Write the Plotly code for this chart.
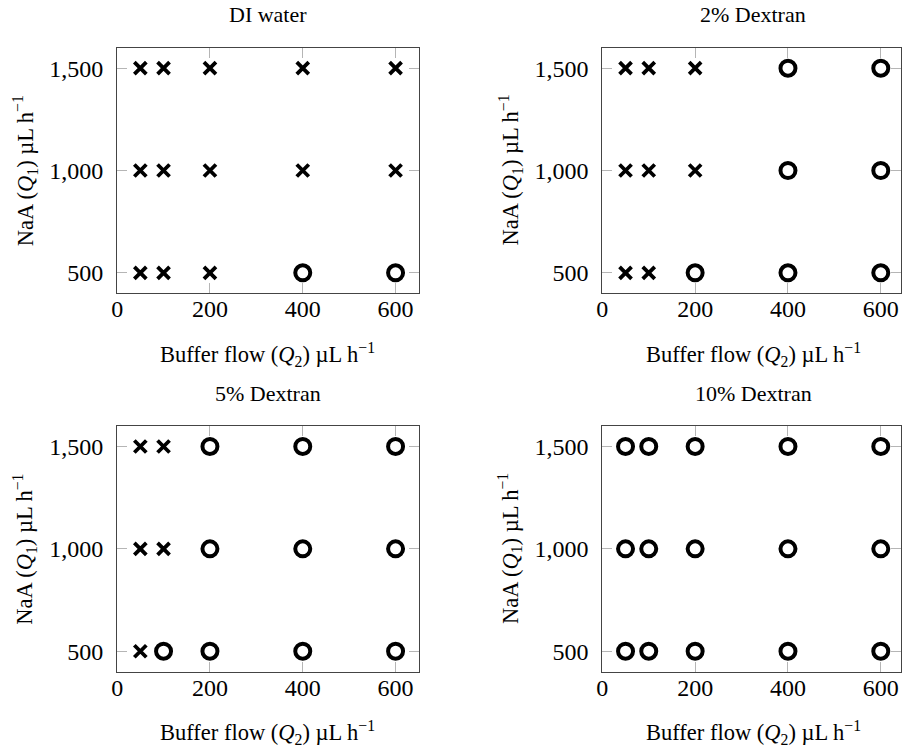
import plotly.graph_objects as go

# ---- data ----
panel_titles = ["DI water", "2% Dextran", "5% Dextran", "10% Dextran"]
buffer_flow = [50, 100, 200, 400, 600]          # Q2, µL/h
naa_flow = [500, 1000, 1500]                    # Q1, µL/h
# outcome per (row = naa_flow, col = buffer_flow): "x" = cross, "o" = circle
outcome_di = [["x", "x", "x", "o", "o"],
              ["x", "x", "x", "x", "x"],
              ["x", "x", "x", "x", "x"]]
outcome_2 = [["x", "x", "o", "o", "o"],
             ["x", "x", "x", "o", "o"],
             ["x", "x", "x", "o", "o"]]
outcome_5 = [["x", "o", "o", "o", "o"],
             ["x", "x", "o", "o", "o"],
             ["x", "x", "o", "o", "o"]]
outcome_10 = [["o", "o", "o", "o", "o"],
              ["o", "o", "o", "o", "o"],
              ["o", "o", "o", "o", "o"]]
outcomes = [outcome_di, outcome_2, outcome_5, outcome_10]
x_ticks = [0, 200, 400, 600]
y_ticks = [500, 1000, 1500]
y_tick_text = ["500", "1,000", "1,500"]

# ---- layout geometry ----
W, H = 902, 747
FONT = "Liberation Serif"
col_px = [(112, 416), (601, 905)]
row_px = [(47.7, 293.3), (426, 671.7)]
XMAX = 650

fig = go.Figure()

for i, (title, grid) in enumerate(zip(panel_titles, outcomes)):
    r, c = divmod(i, 2)
    x0, x1 = col_px[c]
    top, bot = row_px[r]
    x1c = min(x1, W)
    xr = XMAX * (x1c - x0) / (x1 - x0)
    ax = "" if i == 0 else str(i + 1)
    xa, ya = "x" + ax, "y" + ax

    for sym in ["x", "o"]:
        xs, ys = [], []
        for ri, q1 in enumerate(naa_flow):
            for ci, q2 in enumerate(buffer_flow):
                if grid[ri][ci] == sym:
                    xs.append(q2)
                    ys.append(q1)
        if sym == "x":
            marker = dict(symbol="x-thin-open", size=12, color="black",
                          line=dict(color="black", width=3.8))
        else:
            marker = dict(symbol="circle-open", size=15, color="black",
                          line=dict(color="black", width=4))
        fig.add_trace(go.Scatter(x=xs, y=ys, mode="markers", marker=marker,
                                 xaxis=xa, yaxis=ya, showlegend=False,
                                 hoverinfo="skip"))

    axis_common = dict(showgrid=False, zeroline=False, showline=True,
                       linecolor="#444", linewidth=1, mirror="ticks",
                       ticks="inside", ticklen=10, tickwidth=1,
                       tickcolor="#b5b5b5", layer="below traces",
                       tickfont=dict(family=FONT, size=24, color="black"))
    fig.layout["xaxis" + ax] = dict(
        domain=[x0 / W, x1c / W], range=[0, xr], anchor=ya,
        tickvals=x_ticks, ticktext=[str(v) for v in x_ticks],
        ticklabelstandoff=-6, **axis_common)
    fig.layout["yaxis" + ax] = dict(
        domain=[1 - bot / H, 1 - top / H], range=[400, 1600], anchor=xa,
        tickvals=y_ticks, ticktext=y_tick_text, ticklabelstandoff=8,
        **axis_common)

    cx = (x0 + x1) / 2
    # panel title
    fig.add_annotation(text=title, x=cx / W, y=1 - (top - 33) / H,
                       xref="paper", yref="paper", showarrow=False,
                       xanchor="center", yanchor="middle",
                       font=dict(family=FONT, size=22, color="black"))
    # x-axis title
    fig.add_annotation(text="Buffer flow (<i>Q</i><sub>2</sub>) µL h<sup>−1</sup>",
                       x=cx / W, y=1 - (bot + 61) / H,
                       xref="paper", yref="paper", showarrow=False,
                       xanchor="center", yanchor="middle",
                       font=dict(family=FONT, size=22.5, color="black"))
    # y-axis title
    fig.add_annotation(text="NaA (<i>Q</i><sub>1</sub>) µL h<sup>−1</sup>",
                       x=(x0 - 93) / W, y=1 - (top + bot) / 2 / H,
                       xref="paper", yref="paper", showarrow=False,
                       textangle=-90, xanchor="center", yanchor="middle",
                       font=dict(family=FONT, size=22.5, color="black"))

fig.update_layout(width=W, height=H, margin=dict(l=0, r=0, t=0, b=0),
                  paper_bgcolor="white", plot_bgcolor="white")

fig.write_html("out.html")
